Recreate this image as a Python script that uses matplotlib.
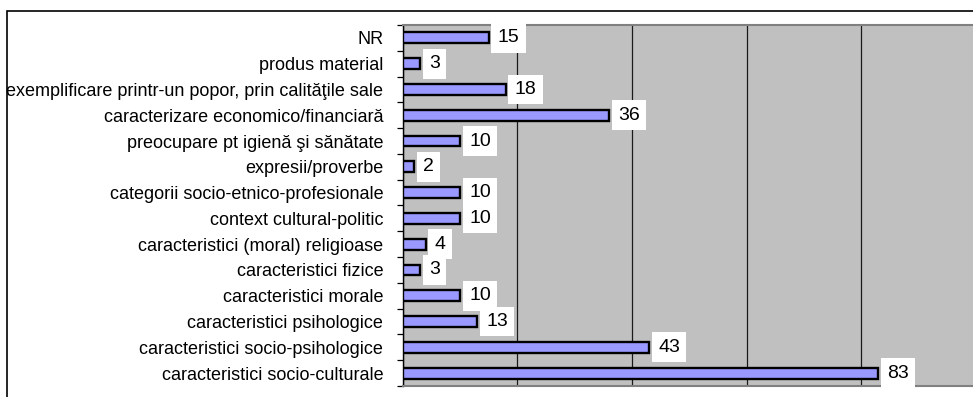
import matplotlib.pyplot as plt
import numpy as np
from matplotlib.patches import Rectangle

plt.rcParams['font.family'] = ['Liberation Sans', 'DejaVu Sans']

# categories listed bottom to top
categories = [
    'caracteristici socio-culturale',
    'caracteristici socio-psihologice',
    'caracteristici psihologice',
    'caracteristici morale',
    'caracteristici fizice',
    'caracteristici (moral) religioase',
    'context cultural-politic',
    'categorii socio-etnico-profesionale',
    'expresii/proverbe',
    'preocupare pt igienă şi sănătate',
    'caracterizare economico/financiară',
    'exemplificare printr-un popor, prin calităţile sale',
    'produs material',
    'NR',
]
counts = [83, 43, 13, 10, 3, 4, 10, 10, 2, 10, 36, 18, 3, 15]
x_ticks = [0, 20, 40, 60, 80, 100]

fig = plt.figure(figsize=(9.73, 3.97), dpi=100)

# outer chart frame, runs off the right and bottom edges
fig.patches.append(Rectangle((7 / 973, -0.05), 1.1, 1 - 10.5 / 397 + 0.05,
                             transform=fig.transFigure, fill=False,
                             edgecolor='black', linewidth=1.2))

ax = fig.add_axes([402.7 / 973, 11 / 397, 573 / 973, 361 / 397])
ax.set_facecolor('#C0C0C0')

y = np.arange(len(categories))
ax.barh(y, counts, height=0.42, color='#9999FF', edgecolor='black',
        linewidth=1.7, zorder=3)

ax.set_xlim(0, 100)
ax.set_ylim(-0.5, len(categories) - 0.5)
ax.set_xticks(x_ticks)
ax.set_xticklabels([])
ax.tick_params(axis='x', length=0)
ax.grid(axis='x', color='#1a1a1a', linewidth=0.9, zorder=1)

ax.set_yticks(y)
ax.set_yticklabels(categories, fontsize=13)
ax.tick_params(axis='y', length=0, pad=14)
ax.set_yticks(np.arange(len(categories) + 1) - 0.5, minor=True)
ax.tick_params(axis='y', which='minor', length=4, width=0.9, direction='out')

for side in ['top', 'bottom', 'right']:
    ax.spines[side].set_color('#808080')
    ax.spines[side].set_linewidth(1.5)
ax.spines['left'].set_color('black')
ax.spines['left'].set_linewidth(1.0)

for yi, v in zip(y, counts):
    ax.annotate(str(v), (v, yi), xytext=(6.5, 0), textcoords='offset points',
                ha='left', va='center', fontsize=14, zorder=5, annotation_clip=False,
                bbox=dict(boxstyle='square,pad=0.33', facecolor='white', edgecolor='none'))

fig.savefig('out.png', dpi=100)
